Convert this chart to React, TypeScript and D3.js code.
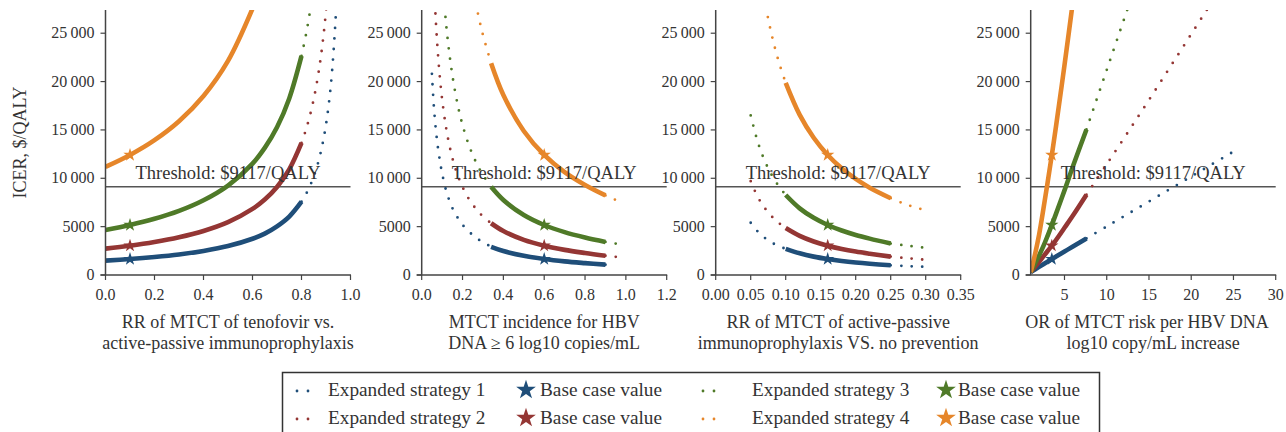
import React from "react";
import * as d3 from "d3";

// ---------- shared ----------
const COLORS = ["#1f4e79", "#943634", "#4f7a28", "#e6862a"];
const STRATEGY_LABELS = ["Expanded strategy 1", "Expanded strategy 2", "Expanded strategy 3", "Expanded strategy 4"];
const BASE_LABEL = "Base case value";
const Y_TICKS = [0, 5000, 10000, 15000, 20000, 25000];
const Y_TICK_LABELS = ["0", "5000", "10\u2009000", "15\u2009000", "20\u2009000", "25\u2009000"];
const Y_MAX = 27400;
const THRESHOLD = 9117;
const THRESHOLD_LABEL = "Threshold: $9117/QALY";
const Y_TITLE = "ICER, $/QALY";
const BASE_ICER = [1650, 3030, 5170, 12410];

// ---------- panel 1 : RR of MTCT of tenofovir vs. active-passive ----------
const p1Domain = [0, 1];
const p1Ticks = [0, 0.2, 0.4, 0.6, 0.8, 1.0];
const p1TickLabels = ["0.0", "0.2", "0.4", "0.6", "0.8", "1.0"];
const p1Title = ["RR of MTCT of tenofovir vs.", "active-passive immunoprophylaxis"];
const p1Base = 0.1;
const p1SolidX = [0, 0.1, 0.2, 0.3, 0.4, 0.5, 0.6, 0.65, 0.7, 0.75, 0.8];
const p1Solid1 = [1485, 1650, 1860, 2125, 2490, 2990, 3750, 4280, 5030, 6040, 7580];
const p1Solid2 = [2730, 3030, 3410, 3900, 4550, 5460, 6830, 7800, 9100, 10920, 13650];
const p1Solid3 = [4660, 5170, 5810, 6630, 7730, 9250, 11520, 13140, 15270, 18260, 22650];
const p1Solid4 = [11180, 12410, 13940, 15900, 18510, 22140, 27540, null, null, null, null];
const p1DotX = [0.8, 0.82, 0.84, 0.86, 0.88, 0.9, 0.92, 0.94, 0.95];
const p1Dot1 = [7580, 8440, 9530, 10940, 12850, 15550, 19700, 26850, 32800];
const p1Dot2 = [13650, 15170, 17060, 19500, 22750, 27300, 34100, null, null];
const p1Dot3 = [22650, 25080, 28070, null, null, null, null, null, null];
const p1Dot4 = [null, null, null, null, null, null, null, null, null];

// ---------- panel 2 : MTCT incidence for HBV DNA >= 6 ----------
const p2Domain = [0, 1.2];
const p2Ticks = [0, 0.2, 0.4, 0.6, 0.8, 1.0, 1.2];
const p2TickLabels = ["0.0", "0.2", "0.4", "0.6", "0.8", "1.0", "1.2"];
const p2Title = ["MTCT incidence for HBV", "DNA \u2265 6 log10 copies/mL"];
const p2Base = 0.6;
const p2SolidX = [0.34, 0.4, 0.5, 0.6, 0.7, 0.8, 0.9];
const p2Solid1 = [2910, 2475, 1980, 1650, 1410, 1230, 1070];
const p2Solid2 = [5350, 4545, 3636, 3030, 2597, 2273, 1990];
const p2Solid3 = [9120, 7755, 6204, 5170, 4431, 3878, 3420];
const p2Solid4 = [21900, 18615, 14892, 12410, 10637, 9308, 8230];
const p2LeftX = [0.05, 0.06, 0.07, 0.08, 0.09, 0.1, 0.12, 0.14, 0.16, 0.18, 0.2, 0.23, 0.26, 0.28, 0.3, 0.34];
const p2Left1 = [20800, 17300, 14900, 13100, 11700, 10500, 8700, 7450, 6500, 5800, 5200, 4500, 3980, 3650, 3400, 2910];
const p2Left2 = [null, 30300, 25970, 22730, 20200, 18180, 15150, 12990, 11360, 10100, 9090, 7900, 6990, 6490, 6060, 5350];
const p2Left3 = [null, null, null, null, null, 31020, 25850, 22160, 19390, 17230, 15510, 13490, 11930, 11080, 10340, 9120];
const p2Left4 = [null, null, null, null, null, null, null, null, null, null, null, 32370, 28640, 26590, 24820, 21900];
const p2RightX = [0.9, 0.94, 0.98];
const p2Right1 = [1070, 1020, null];
const p2Right2 = [1990, 1900, 1810];
const p2Right3 = [3420, 3280, 3150];
const p2Right4 = [8230, 7850, 7550];

// ---------- panel 3 : RR of MTCT of active-passive vs. no prevention ----------
const p3Domain = [0, 0.35];
const p3Ticks = [0, 0.05, 0.1, 0.15, 0.2, 0.25, 0.3, 0.35];
const p3TickLabels = ["0.00", "0.05", "0.10", "0.15", "0.20", "0.25", "0.30", "0.35"];
const p3Title = ["RR of MTCT of active-passive", "immunoprophylaxis VS. no prevention"];
const p3Base = 0.16;
const p3SolidX = [0.1, 0.12, 0.14, 0.16, 0.18, 0.2, 0.22, 0.25];
const p3Solid1 = [2700, 2240, 1900, 1650, 1450, 1290, 1160, 1000];
const p3Solid2 = [4850, 4040, 3460, 3030, 2690, 2420, 2200, 1900];
const p3Solid3 = [8270, 6890, 5910, 5170, 4600, 4140, 3760, 3250];
const p3Solid4 = [19860, 16550, 14190, 12410, 11030, 9930, 9030, 7940];
const p3LeftX = [0.05, 0.06, 0.07, 0.08, 0.09, 0.1];
const p3Left1 = [5400, 4500, 3850, 3350, 3000, 2700];
const p3Left2 = [9700, 8080, 6930, 6060, 5390, 4850];
const p3Left3 = [16500, 13780, 11810, 10340, 9190, 8270];
const p3Left4 = [null, 33100, 28370, 24830, 22070, 19860];
const p3RightX = [0.25, 0.27, 0.295];
const p3Right1 = [1000, 930, 860];
const p3Right2 = [1900, 1760, 1600];
const p3Right3 = [3250, 3060, 2850];
const p3Right4 = [7940, 7350, 6780];

// ---------- panel 4 : OR of MTCT risk per HBV DNA log10 increase ----------
const p4Domain = [1, 30];
const p4Ticks = [5, 10, 15, 20, 25, 30];
const p4TickLabels = ["5", "10", "15", "20", "25", "30"];
const p4Title = ["OR of MTCT risk per HBV DNA", "log10 copy/mL increase"];
const p4Base = 3.5;
const p4SolidX = [1, 1.5, 2, 2.5, 3, 3.5, 4, 5, 6, 7.6];
const p4Solid1 = [300, 570, 840, 1110, 1380, 1650, 1910, 2430, 2950, 3780];
const p4Solid2 = [300, 820, 1370, 1920, 2480, 3030, 3620, 4880, 6150, 8300];
const p4Solid3 = [300, 1150, 2030, 2980, 4050, 5170, 6350, 8750, 11250, 15050];
const p4Solid4 = [300, 2100, 4200, 6800, 9550, 12410, 15400, 21700, 28300, null];
const p4DotX = [7.6, 10, 12.5, 15, 17.5, 20, 22.5, 25];
const p4Dot1 = [3780, 5020, 6310, 7600, 8890, 10180, 11470, 12760];
const p4Dot2 = [8300, 11450, 14750, 18100, 21500, 24900, 28300, null];
const p4Dot3 = [15050, 21200, 27600, null, null, null, null, null];
const p4Dot4 = [null, null, null, null, null, null, null, null];

type Seg = { x: number[]; ys: (number | null)[][] };
type Panel = {
  left: number;
  domain: number[];
  ticks: number[];
  tickLabels: string[];
  title: string[];
  titleX?: number;
  base: number;
  solid: Seg[];
  dotted: Seg[];
};

const panels: Panel[] = [
  {
    left: 105.5, domain: p1Domain, ticks: p1Ticks, tickLabels: p1TickLabels, title: p1Title, base: p1Base,
    solid: [{ x: p1SolidX, ys: [p1Solid1, p1Solid2, p1Solid3, p1Solid4] }],
    dotted: [{ x: p1DotX, ys: [p1Dot1, p1Dot2, p1Dot3, p1Dot4] }],
  },
  {
    left: 421.7, domain: p2Domain, ticks: p2Ticks, tickLabels: p2TickLabels, title: p2Title, base: p2Base,
    solid: [{ x: p2SolidX, ys: [p2Solid1, p2Solid2, p2Solid3, p2Solid4] }],
    dotted: [
      { x: p2LeftX, ys: [p2Left1, p2Left2, p2Left3, p2Left4] },
      { x: p2RightX, ys: [p2Right1, p2Right2, p2Right3, p2Right4] },
    ],
  },
  {
    left: 715.7, domain: p3Domain, ticks: p3Ticks, tickLabels: p3TickLabels, title: p3Title, base: p3Base,
    solid: [{ x: p3SolidX, ys: [p3Solid1, p3Solid2, p3Solid3, p3Solid4] }],
    dotted: [
      { x: p3LeftX, ys: [p3Left1, p3Left2, p3Left3, p3Left4] },
      { x: p3RightX, ys: [p3Right1, p3Right2, p3Right3, p3Right4] },
    ],
  },
  {
    left: 1030.7, domain: p4Domain, ticks: p4Ticks, tickLabels: p4TickLabels, title: p4Title, titleX: 1147, base: p4Base,
    solid: [{ x: p4SolidX, ys: [p4Solid1, p4Solid2, p4Solid3, p4Solid4] }],
    dotted: [{ x: p4DotX, ys: [p4Dot1, p4Dot2, p4Dot3, p4Dot4] }],
  },
];

const W = 1286;
const H = 432;
const PW = 245;
const TOP = 10;
const BOTTOM = 275;
const FONT = "'Liberation Serif', 'Times New Roman', serif";
const TEXT = "#333333";

const y = d3.scaleLinear().domain([0, Y_MAX]).range([BOTTOM, TOP]);

function starPath(size: number) {
  return d3.symbol().type(d3.symbolStar).size(size)() as string;
}

function PanelView({ p, idx }: { p: Panel; idx: number }) {
  const x = d3.scaleLinear().domain(p.domain).range([p.left, p.left + PW]);
  const mk = (seg: Seg, yv: (number | null)[]) => {
    const pts = seg.x.map((xv, i) => [xv, yv[i] as number | null] as [number, number | null]);
    return d3
      .line<[number, number | null]>()
      .defined((d) => d[1] != null)
      .x((d) => x(d[0]))
      .y((d) => y(d[1] as number))
      .curve(d3.curveCatmullRom.alpha(0.5))(pts) as string;
  };
  const clipId = `clip${idx}`;
  const cx = p.titleX ?? p.left + PW / 2;
  return (
    <g>
      <defs>
        <clipPath id={clipId}>
          <rect x={p.left} y={TOP} width={PW + 4} height={BOTTOM - TOP} />
        </clipPath>
      </defs>
      <line x1={p.left} x2={p.left + PW} y1={y(THRESHOLD)} y2={y(THRESHOLD)} stroke="#555" strokeWidth={1.6} />
      <g clipPath={`url(#${clipId})`}>
        {p.dotted.map((seg, si) =>
          seg.ys.map((yv, k) => (
            <path key={`d${si}-${k}`} d={mk(seg, yv) || ""} fill="none" stroke={COLORS[k]} strokeWidth={2.8}
              strokeLinecap="round" strokeDasharray="0 10.5" />
          ))
        )}
        {p.solid.map((seg, si) =>
          seg.ys.map((yv, k) => (
            <path key={`s${si}-${k}`} d={mk(seg, yv) || ""} fill="none" stroke={COLORS[k]} strokeWidth={4.6}
              strokeLinecap="butt" />
          ))
        )}
        {BASE_ICER.map((v, k) => (
          <path key={`st${k}`} d={starPath(55)} transform={`translate(${x(p.base)},${y(v)})`} fill={COLORS[k]} />
        ))}
      </g>
      <text x={p.left + PW / 2} y={y(THRESHOLD) - 8} textAnchor="middle" fontFamily={FONT} fontSize={18.5} fill={TEXT}>
        {THRESHOLD_LABEL}
      </text>
      <line x1={p.left} x2={p.left} y1={TOP} y2={BOTTOM} stroke="#444" strokeWidth={1.5} />
      {Y_TICKS.map((t, i) => (
        <g key={`yt${i}`}>
          <line x1={p.left - 5} x2={p.left} y1={y(t)} y2={y(t)} stroke="#444" strokeWidth={1.2} />
          <text x={p.left - 11} y={y(t) + 5} textAnchor="end" fontFamily={FONT} fontSize={16} fill={TEXT}>
            {Y_TICK_LABELS[i]}
          </text>
        </g>
      ))}
      <line x1={p.left - 5} x2={p.left + PW + 0.5} y1={BOTTOM} y2={BOTTOM} stroke="#444" strokeWidth={1.5} />
      {p.ticks.map((t, i) => (
        <g key={`xt${i}`}>
          <line x1={x(t)} x2={x(t)} y1={BOTTOM} y2={BOTTOM + 5} stroke="#444" strokeWidth={1.2} />
          <text x={x(t)} y={BOTTOM + 25} textAnchor="middle" fontFamily={FONT} fontSize={16} fill={TEXT}>
            {p.tickLabels[i]}
          </text>
        </g>
      ))}
      {p.title.map((line, i) => (
        <text key={`ti${i}`} x={i === 0 ? cx : p.left + PW / 2} y={328 + i * 21} textAnchor="middle" fontFamily={FONT}
          fontSize={18} fill={TEXT}>
          {line}
        </text>
      ))}
    </g>
  );
}

function Legend() {
  const rows = [396, 424];
  const cols = [
    { dot: 297, text: 328, star: 526, stext: 540 },
    { dot: 703, text: 752, star: 946, stext: 958 },
  ];
  const items = [0, 1, 2, 3];
  return (
    <g>
      <rect x={282.5} y={372.5} width={817} height={80} fill="white" stroke="#333" strokeWidth={1.5} />
      {items.map((k) => {
        const col = cols[Math.floor(k / 2)];
        const ry = rows[k % 2];
        return (
          <g key={k}>
            <line x1={col.dot} x2={col.dot + 22} y1={ry - 5} y2={ry - 5} stroke={COLORS[k]} strokeWidth={2.8}
              strokeLinecap="round" strokeDasharray="0 11" />
            <text x={col.text} y={ry} fontFamily={FONT} fontSize={19.3} fill={TEXT}>{STRATEGY_LABELS[k]}</text>
            <path d={starPath(120)} transform={`translate(${col.star},${ry - 6})`} fill={COLORS[k]} />
            <text x={col.stext} y={ry} fontFamily={FONT} fontSize={19.3} fill={TEXT}>{BASE_LABEL}</text>
          </g>
        );
      })}
    </g>
  );
}

export default function App() {
  return (
    <svg width={W} height={H} style={{ position: "absolute", left: 0, top: 0, background: "white" }}>
      <rect x={0} y={0} width={W} height={H} fill="white" />
      <text transform={`translate(26,${(TOP + BOTTOM) / 2}) rotate(-90)`} textAnchor="middle" fontFamily={FONT}
        fontSize={18} fill={TEXT}>
        {Y_TITLE}
      </text>
      {panels.map((p, i) => (
        <PanelView key={i} p={p} idx={i} />
      ))}
      <Legend />
    </svg>
  );
}
